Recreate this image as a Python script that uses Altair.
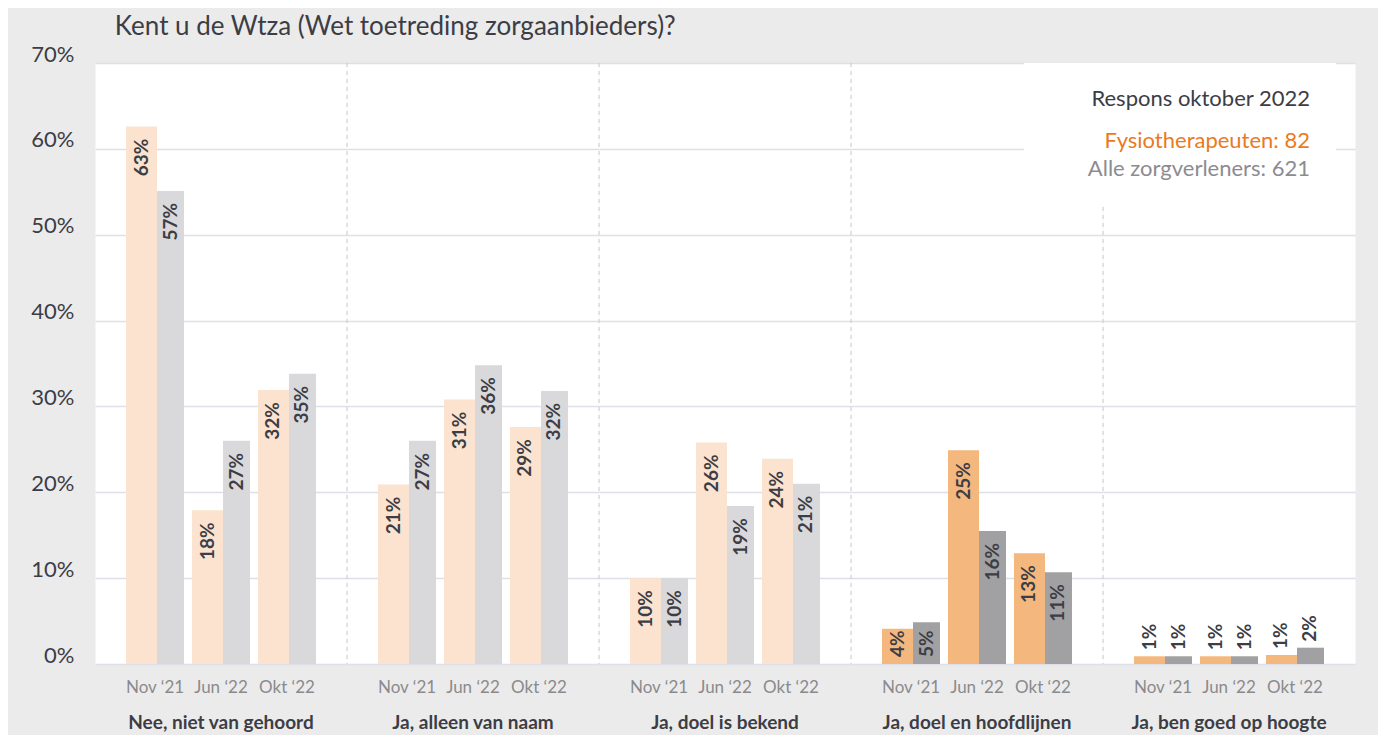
import altair as alt
import pandas as pd

# ---------------- data ----------------
groups = ["Nee, niet van gehoord", "Ja, alleen van naam", "Ja, doel is bekend",
          "Ja, doel en hoofdlijnen", "Ja, ben goed op hoogte"]
periods = ["Nov \u201821", "Jun \u201822", "Okt \u201822"]

# printed percentages (labels)
fysio_labels = [63, 18, 32, 21, 31, 29, 10, 26, 24, 4, 25, 13, 1, 1, 1]
alle_labels = [57, 27, 35, 27, 36, 32, 10, 19, 21, 5, 16, 11, 1, 1, 2]
# bar heights as drawn in the picture (percent)
fysio_heights = [62.6, 17.9, 31.9, 20.9, 30.8, 27.6, 10.0, 25.8, 23.9, 4.1, 24.9, 12.9, 0.9, 0.9, 1.05]
alle_heights = [55.1, 26.0, 33.8, 26.0, 34.8, 31.8, 10.0, 18.4, 21.0, 4.85, 15.5, 10.7, 0.9, 0.9, 1.9]

strong_groups = ["Ja, doel en hoofdlijnen", "Ja, ben goed op hoogte"]
outside_label_groups = ["Ja, ben goed op hoogte"]

title_text = "Kent u de Wtza (Wet toetreding zorgaanbieders)?"
legend_title = "Respons oktober 2022"
legend_fysio = "Fysiotherapeuten: 82"
legend_alle = "Alle zorgverleners: 621"
y_ticks = [0, 10, 20, 30, 40, 50, 60, 70]

# ---------------- styles ----------------
ORANGE_LIGHT = "#FBE3CF"
GREY_LIGHT = "#D9D9DC"
ORANGE_STRONG = "#F4B87E"
GREY_STRONG = "#A1A1A3"
TEXT_DARK = "#3C3D45"
FONT = "Lato"

rows = []
for gi, g in enumerate(groups):
    for pi, p in enumerate(periods):
        k = gi * 3 + pi
        rows.append(dict(
            group=g, period=p, gidx=gi, pidx=pi,
            fysio_h=fysio_heights[k], alle_h=alle_heights[k],
            fysio_lbl=f"{fysio_labels[k]}%", alle_lbl=f"{alle_labels[k]}%",
            strong=g in strong_groups, outside=g in outside_label_groups,
        ))
df = pd.DataFrame(rows)

x_enc = alt.X(
    "period:N", sort=periods,
    scale=alt.Scale(paddingInner=0.121, paddingOuter=0.47),
    axis=alt.Axis(title=None, labelAngle=0, ticks=False, domain=False, grid=False,
                  labelFont=FONT, labelFontSize=17, labelColor="#8A8A8D", labelPadding=15),
)
y_axis = alt.Axis(title=None, values=y_ticks, labelExpr="datum.value + '%'", ticks=False,
                  domain=False, grid=True, gridColor="#DEE0E8", gridWidth=1.5,
                  labelFont=FONT, labelFontSize=22, labelColor=TEXT_DARK,
                  labelPadding=21, labelOffset=-9)
y_scale = alt.Scale(domain=[0, 70], nice=False)


def Y(field):
    return alt.Y(field, scale=y_scale, axis=y_axis)


FO, GO = -13.5, 15.5  # horizontal offsets of the two bars in a pair

bars_f = alt.Chart().mark_bar(width=31, xOffset=FO).encode(
    x=x_enc, y=Y("fysio_h:Q"),
    color=alt.condition(alt.datum.strong, alt.value(ORANGE_STRONG), alt.value(ORANGE_LIGHT)),
)
bars_a = alt.Chart().mark_bar(width=27, xOffset=GO).encode(
    x=x_enc, y=Y("alle_h:Q"),
    color=alt.condition(alt.datum.strong, alt.value(GREY_STRONG), alt.value(GREY_LIGHT)),
)

txt_kw = dict(angle=270, baseline="middle", font=FONT, fontWeight="bold", fontSize=19, color=TEXT_DARK)

in_f = alt.Chart().transform_filter("!datum.outside").transform_calculate(
    fy="max(datum.fysio_h - 1.4, 3.9)"
).mark_text(align="right", xOffset=FO, **txt_kw).encode(x=x_enc, y=Y("fy:Q"), text="fysio_lbl:N")
in_a = alt.Chart().transform_filter("!datum.outside").transform_calculate(
    ay="max(datum.alle_h - 1.4, 3.9)"
).mark_text(align="right", xOffset=GO, **txt_kw).encode(x=x_enc, y=Y("ay:Q"), text="alle_lbl:N")

out_f = alt.Chart().transform_filter("datum.outside").mark_text(
    align="left", dx=6, xOffset=FO, **txt_kw).encode(x=x_enc, y=Y("fysio_h:Q"), text="fysio_lbl:N")
out_a = alt.Chart().transform_filter("datum.outside").mark_text(
    align="left", dx=6, xOffset=GO, **txt_kw).encode(x=x_enc, y=Y("alle_h:Q"), text="alle_lbl:N")

PANEL_W, PANEL_H = 252, 601

sep = alt.Chart().transform_filter("datum.gidx > 0 && datum.pidx == 0").mark_rule(
    strokeDash=[4, 4], color="#C8C8CC", strokeWidth=1
).encode(x=alt.value(0), y=alt.value(0), y2=alt.value(PANEL_H))

leg_filter = "datum.gidx == 4 && datum.pidx == 0"
leg_box = alt.Chart().transform_filter(leg_filter).mark_rect(color="white").encode(
    x=alt.value(-79), x2=alt.value(233), y=alt.value(0), y2=alt.value(143))
leg_kw = dict(align="right", baseline="alphabetic", font=FONT, fontSize=22)
leg_t1 = alt.Chart().transform_filter(leg_filter).mark_text(color=TEXT_DARK, **leg_kw).encode(
    x=alt.value(207), y=alt.value(43), text=alt.value(legend_title))
leg_t2 = alt.Chart().transform_filter(leg_filter).mark_text(color="#EA7A1E", **leg_kw).encode(
    x=alt.value(207), y=alt.value(85), text=alt.value(legend_fysio))
leg_t3 = alt.Chart().transform_filter(leg_filter).mark_text(color="#8C8C90", **leg_kw).encode(
    x=alt.value(207), y=alt.value(113), text=alt.value(legend_alle))

layered = alt.layer(sep, bars_f, bars_a, in_f, in_a, out_f, out_a,
                    leg_box, leg_t1, leg_t2, leg_t3, data=df).properties(
    width=PANEL_W, height=PANEL_H)

chart = layered.facet(
    column=alt.Column("group:N", sort=groups, header=alt.Header(
        title=None, labelOrient="bottom", labelFont=FONT, labelFontSize=19,
        labelFontWeight="bold", labelColor=TEXT_DARK, labelPadding=19)),
    spacing=0,
    bounds="flush",
).properties(
    title=alt.TitleParams(title_text, anchor="start", font=FONT, fontSize=26,
                          fontWeight="normal", color=TEXT_DARK, dx=84, offset=3),
    background="#EBEBEB",
    padding={"left": 22, "top": 6, "right": 22, "bottom": 2},
).configure_view(fill="white", stroke="transparent")

chart.save("out.html", embed_options={"renderer": "svg", "actions": False})
